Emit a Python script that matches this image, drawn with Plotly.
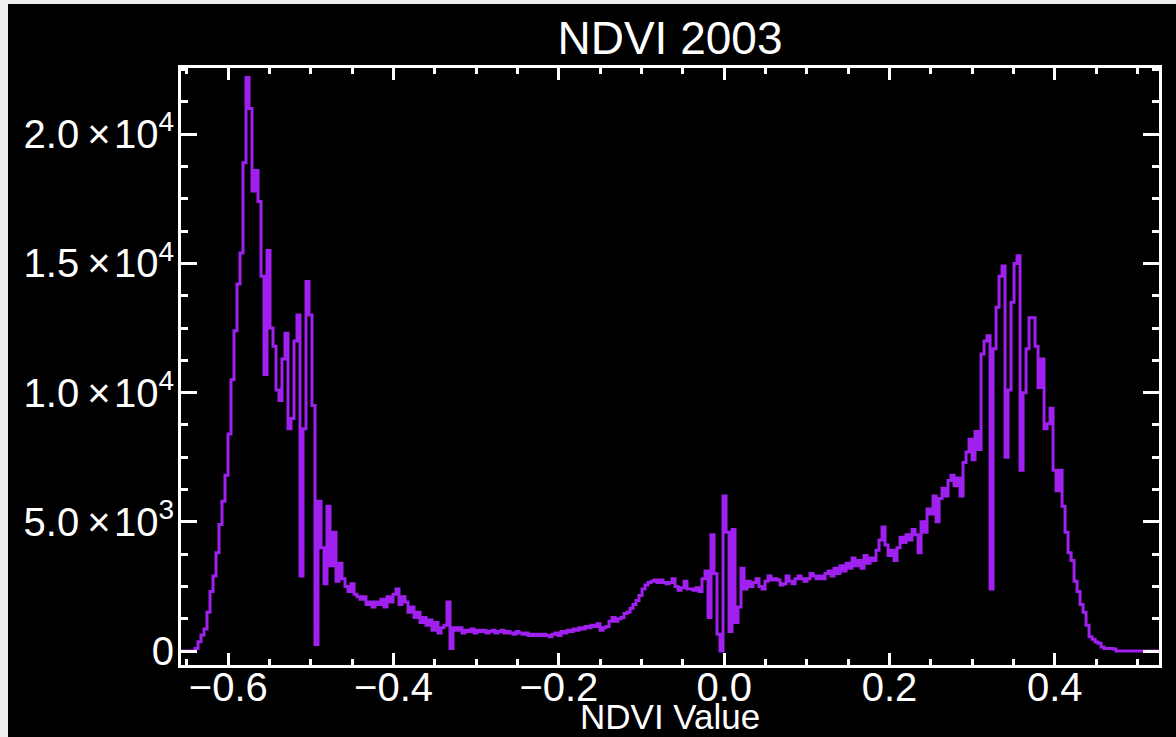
import plotly.graph_objects as go

# ---------------- data ----------------
BIN_CENTER_START = -0.6566   # NDVI value at the centre of the first histogram bin
BIN_WIDTH = 0.00363          # NDVI width of one histogram bin

counts = [
    0, 0, 0, 0, 0, 100, 360, 620, 850, 1500,
    2300, 2900, 3800, 4900, 5800, 6800, 8400, 10500, 12400, 14200,
    15400, 18900, 22200, 21000, 17800, 18600, 17400, 14500, 10700, 15500,
    12500, 11800, 10100, 9700, 11300, 12300, 8600, 9000, 12000, 13000,
    2900, 8600, 14300, 13000, 9500, 250, 5800, 4000, 2600, 5600,
    3300, 4600, 2700, 3400, 2800, 2500, 2300, 2600, 2200, 2100,
    2000, 2100, 1800, 1900, 1700, 1900, 1800, 2000, 1700, 2100,
    1900, 2200, 2400, 1800, 2100, 1900, 1500, 1700, 1300, 1500,
    1100, 1300, 1000, 1200, 800, 1100, 700, 900, 1000, 1900,
    100, 900, 800, 900, 700, 800, 750, 850, 700, 800,
    750, 800, 700, 750, 800, 700, 750, 800, 700, 750,
    700, 650, 750, 700, 650, 700, 600, 650, 600, 650,
    600, 650, 600, 550, 650, 700, 600, 750, 700, 800,
    750, 850, 800, 900, 850, 950, 900, 1000, 950, 1050,
    800, 900, 950, 1150, 1300, 1150, 1250, 1300, 1450, 1500,
    1650, 1800, 1950, 2150, 2400, 2550, 2650, 2700, 2750, 2650,
    2750, 2650, 2600, 2650, 2800, 2500, 2350, 2450, 2700, 2400,
    2400, 2350, 2450, 2300, 2800, 3100, 1300, 4500, 3000, 650,
    0, 6000, 4600, 750, 4700, 1100, 1700, 3200, 2400, 2700,
    2500, 2650, 2800, 2500, 2400, 2700, 2900, 2750, 2800, 2750,
    2550, 2600, 2900, 2700, 2600, 2800, 2900, 2800, 2700, 2800,
    3000, 2900, 2800, 2900, 2800, 3000, 3100, 2900, 3200, 3000,
    3300, 3100, 3400, 3200, 3600, 3300, 3500, 3200, 3700, 3400,
    3600, 3500, 3900, 4300, 4800, 4100, 3700, 3900, 3500, 4000,
    4400, 4200, 4500, 4300, 4700, 4500, 3800, 5000, 4600, 5500,
    5300, 6000, 5000, 5900, 6300, 6000, 6600, 6800, 6400, 6700,
    6000, 7300, 7700, 8200, 7400, 8500, 7800, 11500, 12000, 12200,
    2400, 11700, 13300, 14500, 14900, 7500, 10100, 13500, 15000, 15300,
    7000, 10000, 11700, 12900, 12900, 11800, 10200, 11300, 8600, 8800,
    9400, 7000, 6200, 7000, 5600, 4600, 3800, 3500, 2700, 2300,
    1800, 1500, 1000, 550, 450, 350, 300, 150, 100, 100,
    100, 80, 0, 0, 0, 0, 0, 0, 0, 0,
    0, 0, 0, 0, 0, 0, 0,
]
ndvi = [BIN_CENTER_START + i * BIN_WIDTH for i in range(len(counts))]

title_text = "NDVI 2003"
x_title = "NDVI Value"
x_tick_vals = [-0.6, -0.4, -0.2, 0.0, 0.2, 0.4]
x_tick_text = ["\u22120.6", "\u22120.4", "\u22120.2", "0.0", "0.2", "0.4"]
y_tick_vals = [0, 5000, 10000, 15000, 20000]
y_tick_text = ["0", "5.0\u2009\u00d7\u200a10<sup>3</sup>", "1.0\u2009\u00d7\u200a10<sup>4</sup>",
               "1.5\u2009\u00d7\u200a10<sup>4</sup>", "2.0\u2009\u00d7\u200a10<sup>4</sup>"]
x_range = [-0.6572, 0.5261]
y_range = [-542, 22565]

# ---------------- figure ----------------
W, H = 1176, 737
ML, MR, MT, MB = 181, 17, 68, 72
PW, PH = W - ML - MR, H - MT - MB
FONT = "Liberation Sans"
PURPLE = "#A020F0"
GREY = "#efefef"

fig = go.Figure()
fig.add_trace(go.Scatter(
    x=ndvi, y=counts, mode="lines",
    line=dict(color=PURPLE, width=3, shape="hvh"),
    showlegend=False, hoverinfo="x+y",
))

def px_to_paper_x(px):
    return (px - ML) / PW

def px_to_paper_y(py):
    return (H - MB - py) / PH

shapes = [
    # light grey strips round the black canvas (left and top)
    dict(type="rect", xref="paper", yref="paper", layer="below",
         x0=px_to_paper_x(-5), x1=px_to_paper_x(8),
         y0=px_to_paper_y(H + 5), y1=px_to_paper_y(-5),
         fillcolor=GREY, line=dict(width=0)),
    dict(type="rect", xref="paper", yref="paper", layer="below",
         x0=px_to_paper_x(-5), x1=px_to_paper_x(W + 5),
         y0=px_to_paper_y(4), y1=px_to_paper_y(-5),
         fillcolor=GREY, line=dict(width=0)),
]

annotations = [
    dict(text=x_title, xref="paper", yref="paper", x=0.5, y=px_to_paper_y(716),
         xanchor="center", yanchor="middle", showarrow=False,
         font=dict(family=FONT, size=35, color="white")),
]

axis_common = dict(
    showline=True, linecolor="white", linewidth=3, mirror="allticks",
    ticks="inside", tickcolor="white", tickwidth=3,
    showgrid=False, zeroline=False, automargin=False,
    tickfont=dict(family=FONT, size=40, color="white"),
)

fig.update_layout(
    width=W, height=H,
    margin=dict(l=ML, r=MR, t=MT, b=MB, pad=0, autoexpand=False),
    paper_bgcolor="black", plot_bgcolor="black",
    font=dict(family=FONT, color="white"),
    title=dict(text=title_text, font=dict(family=FONT, size=46, color="white"),
               x=0.5, xref="paper", xanchor="center",
               y=1 - 38 / H, yref="container", yanchor="middle", automargin=False),
    xaxis=dict(range=x_range, tickmode="array", tickvals=x_tick_vals,
               ticktext=x_tick_text, ticklen=12, ticklabelstandoff=-15,
               minor=dict(dtick=0.05, tick0=0, ticklen=6, tickwidth=3,
                          tickcolor="white", ticks="inside", showgrid=False),
               **axis_common),
    yaxis=dict(range=y_range, tickmode="array", tickvals=y_tick_vals,
               ticktext=y_tick_text, ticklen=16, ticklabelstandoff=-4,
               minor=dict(dtick=1250, tick0=0, ticklen=7, tickwidth=3,
                          tickcolor="white", ticks="inside", showgrid=False),
               **axis_common),
    shapes=shapes,
    annotations=annotations,
)

fig.write_html("out.html")
